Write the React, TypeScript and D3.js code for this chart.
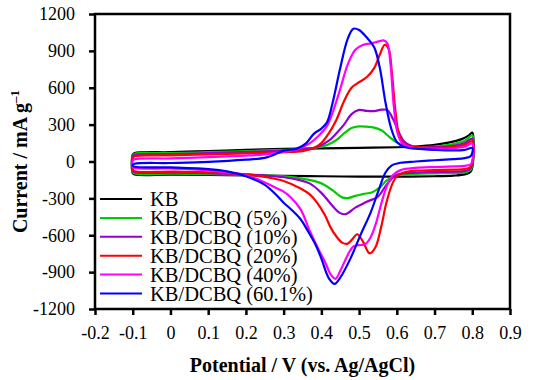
import React, { useEffect, useRef } from 'react';
import * as d3 from 'd3';

type Pt = [number, number];

// potential (V) vs current (mA/g), forward (anodic) and reverse (cathodic) scans
const kbForward: Pt[] = [[-0.1, 55], [-0.095, 68], [0, 76], [0.1, 85], [0.2, 95], [0.3, 102], [0.4, 107], [0.5, 111], [0.6, 116], [0.65, 122], [0.7, 135], [0.74, 155], [0.77, 180], [0.79, 210], [0.8, 235]];
const kbReverse: Pt[] = [[0.8, -50], [0.795, -85], [0.78, -105], [0.75, -115], [0.7, -120], [0.6, -123], [0.5, -123], [0.4, -120], [0.3, -117], [0.2, -113], [0.1, -110], [0, -107], [-0.095, -106], [-0.1, -95]];

const dcbq5Forward: Pt[] = [[-0.1, 45], [-0.095, 62], [0, 68], [0.1, 76], [0.2, 85], [0.3, 95], [0.36, 103], [0.4, 120], [0.42, 140], [0.44, 175], [0.46, 228], [0.48, 272], [0.5, 285], [0.52, 283], [0.54, 276], [0.56, 252], [0.58, 200], [0.6, 155], [0.62, 128], [0.65, 116], [0.7, 122], [0.75, 142], [0.78, 168], [0.8, 212]];
const dcbq5Reverse: Pt[] = [[0.8, -35], [0.795, -70], [0.78, -88], [0.75, -93], [0.7, -96], [0.65, -100], [0.6, -115], [0.575, -150], [0.555, -210], [0.535, -250], [0.51, -265], [0.49, -280], [0.47, -298], [0.455, -292], [0.43, -235], [0.4, -178], [0.36, -145], [0.3, -120], [0.2, -108], [0.1, -103], [0, -99], [-0.095, -97], [-0.1, -85]];

const dcbq10Forward: Pt[] = [[-0.1, 38], [-0.095, 52], [0, 60], [0.1, 68], [0.2, 78], [0.3, 88], [0.36, 100], [0.39, 120], [0.42, 170], [0.44, 230], [0.46, 300], [0.48, 385], [0.5, 420], [0.52, 412], [0.54, 410], [0.56, 422], [0.575, 418], [0.59, 345], [0.605, 240], [0.62, 160], [0.64, 125], [0.7, 117], [0.75, 128], [0.78, 150], [0.8, 185]];
const dcbq10Reverse: Pt[] = [[0.8, -20], [0.795, -58], [0.78, -78], [0.75, -82], [0.7, -86], [0.65, -90], [0.6, -108], [0.575, -180], [0.55, -285], [0.52, -328], [0.49, -375], [0.465, -428], [0.45, -420], [0.435, -380], [0.4, -255], [0.37, -180], [0.34, -150], [0.3, -128], [0.2, -105], [0.1, -95], [0, -90], [-0.095, -88], [-0.1, -75]];

const dcbq20Forward: Pt[] = [[-0.1, 28], [-0.095, 42], [0, 50], [0.1, 58], [0.2, 66], [0.3, 76], [0.35, 85], [0.38, 110], [0.4, 150], [0.42, 230], [0.44, 340], [0.46, 490], [0.48, 600], [0.5, 645], [0.52, 685], [0.54, 760], [0.555, 870], [0.568, 950], [0.578, 920], [0.587, 720], [0.596, 420], [0.606, 220], [0.62, 140], [0.64, 122], [0.7, 112], [0.75, 118], [0.78, 135], [0.8, 165]];
const dcbq20Reverse: Pt[] = [[0.8, -12], [0.795, -45], [0.78, -62], [0.75, -66], [0.7, -70], [0.65, -75], [0.62, -88], [0.6, -120], [0.587, -190], [0.572, -340], [0.558, -540], [0.543, -700], [0.528, -748], [0.51, -650], [0.495, -592], [0.48, -640], [0.468, -670], [0.455, -660], [0.44, -610], [0.425, -540], [0.41, -440], [0.39, -340], [0.37, -270], [0.345, -220], [0.3, -158], [0.25, -125], [0.2, -105], [0.1, -88], [0, -82], [-0.095, -80], [-0.1, -65]];

const dcbq40Forward: Pt[] = [[-0.1, 5], [-0.095, 18], [0, 25], [0.1, 35], [0.2, 48], [0.25, 58], [0.3, 78], [0.34, 105], [0.37, 150], [0.395, 215], [0.415, 290], [0.43, 400], [0.45, 590], [0.47, 790], [0.49, 910], [0.51, 948], [0.53, 960], [0.55, 975], [0.565, 985], [0.575, 960], [0.583, 800], [0.592, 450], [0.602, 230], [0.615, 145], [0.635, 118], [0.7, 103], [0.75, 108], [0.78, 120], [0.8, 145]];
const dcbq40Reverse: Pt[] = [[0.8, 0], [0.795, -25], [0.78, -35], [0.75, -40], [0.7, -45], [0.65, -52], [0.61, -70], [0.59, -110], [0.575, -190], [0.56, -330], [0.545, -500], [0.53, -620], [0.515, -675], [0.5, -680], [0.485, -690], [0.47, -760], [0.45, -890], [0.437, -955], [0.425, -920], [0.41, -820], [0.39, -700], [0.37, -570], [0.345, -390], [0.32, -295], [0.3, -245], [0.28, -215], [0.25, -170], [0.2, -112], [0.1, -72], [0, -57], [-0.095, -52], [-0.1, -40]];

const dcbq60Forward: Pt[] = [[-0.1, -28], [-0.095, -18], [0, -12], [0.1, -3], [0.2, 15], [0.25, 30], [0.27, 50], [0.3, 88], [0.335, 105], [0.36, 150], [0.38, 225], [0.4, 268], [0.415, 320], [0.43, 480], [0.45, 760], [0.47, 1000], [0.485, 1080], [0.5, 1070], [0.52, 1010], [0.54, 930], [0.555, 760], [0.57, 480], [0.585, 270], [0.6, 160], [0.62, 118], [0.65, 105], [0.7, 95], [0.75, 90], [0.78, 95], [0.8, 110]];
const dcbq60Reverse: Pt[] = [[0.8, 72], [0.795, 42], [0.78, 28], [0.75, 20], [0.7, 10], [0.65, 0], [0.61, -10], [0.585, -35], [0.57, -90], [0.55, -250], [0.53, -420], [0.504, -596], [0.477, -790], [0.45, -945], [0.435, -995], [0.42, -950], [0.4, -790], [0.385, -680], [0.365, -570], [0.345, -470], [0.32, -390], [0.3, -335], [0.28, -270], [0.25, -190], [0.2, -120], [0.15, -80], [0.1, -62], [0, -48], [-0.095, -43], [-0.1, -35]];

const seriesNames = ['KB', 'KB/DCBQ (5%)', 'KB/DCBQ (10%)', 'KB/DCBQ (20%)', 'KB/DCBQ (40%)', 'KB/DCBQ (60.1%)'];
const seriesColors = ['#000000', '#00cc00', '#9400d3', '#ff0000', '#ff00ff', '#0000ff'];
const seriesData: Pt[][][] = [
  [kbForward, kbReverse],
  [dcbq5Forward, dcbq5Reverse],
  [dcbq10Forward, dcbq10Reverse],
  [dcbq20Forward, dcbq20Reverse],
  [dcbq40Forward, dcbq40Reverse],
  [dcbq60Forward, dcbq60Reverse],
];

const xTickValues = [-0.2, -0.1, 0, 0.1, 0.2, 0.3, 0.4, 0.5, 0.6, 0.7, 0.8, 0.9];
const xTickLabels = ['-0.2', '-0.1', '0', '0.1', '0.2', '0.3', '0.4', '0.5', '0.6', '0.7', '0.8', '0.9'];
const yTickValues = [-1200, -900, -600, -300, 0, 300, 600, 900, 1200];
const yTickLabels = ['-1200', '-900', '-600', '-300', '0', '300', '600', '900', '1200'];

const W = 534;
const H = 380;
const margin = { top: 14, right: 24, bottom: 71, left: 95 };
const font = '"Liberation Serif", "Times New Roman", serif';

const App: React.FC = () => {
  const svgRef = useRef<SVGSVGElement>(null);

  useEffect(() => {
    const svg = d3.select(svgRef.current);
    svg.selectAll('*').remove();

    const x = d3.scaleLinear().domain([-0.2, 0.9]).range([margin.left, W - margin.right]);
    const y = d3.scaleLinear().domain([-1200, 1200]).range([H - margin.bottom, margin.top]);

    const line = d3.line<Pt>()
      .x(d => x(d[0]))
      .y(d => y(d[1]))
      .curve(d3.curveCatmullRomClosed.alpha(0.5));

    // CV loops
    seriesData.forEach((s, i) => {
      svg.append('path')
        .datum([...s[0], ...s[1]])
        .attr('d', line)
        .attr('fill', 'none')
        .attr('stroke', seriesColors[i])
        .attr('stroke-width', 2.2)
        .attr('stroke-linejoin', 'round');
    });

    // x axis
    const xAxis = svg.append('g')
      .attr('transform', `translate(0,${H - margin.bottom})`)
      .call(d3.axisBottom(x).tickValues(xTickValues).tickSize(6).tickPadding(11)
        .tickFormat((_d, i) => xTickLabels[i]));
    xAxis.select('.domain').remove();
    xAxis.selectAll('line').attr('stroke', '#000').attr('stroke-width', 2.5);
    xAxis.selectAll('text').attr('font-family', font).attr('font-size', 18).attr('fill', '#000');

    // y axis
    const yAxis = svg.append('g')
      .attr('transform', `translate(${margin.left},0)`)
      .call(d3.axisLeft(y).tickValues(yTickValues).tickSize(6).tickPadding(14)
        .tickFormat((_d, i) => yTickLabels[i]));
    yAxis.select('.domain').remove();
    yAxis.selectAll('line').attr('stroke', '#000').attr('stroke-width', 2.5);
    yAxis.selectAll('text').attr('font-family', font).attr('font-size', 18).attr('fill', '#000');

    // frame
    svg.append('rect')
      .attr('x', margin.left)
      .attr('y', margin.top)
      .attr('width', W - margin.left - margin.right)
      .attr('height', H - margin.top - margin.bottom)
      .attr('fill', 'none')
      .attr('stroke', '#000')
      .attr('stroke-width', 2.5);

    // legend
    const legend = svg.append('g');
    seriesNames.forEach((name, i) => {
      const ly = 199 + i * 18.9;
      legend.append('line')
        .attr('x1', 100).attr('x2', 142)
        .attr('y1', ly).attr('y2', ly)
        .attr('stroke', seriesColors[i])
        .attr('stroke-width', 2);
      legend.append('text')
        .attr('x', 150).attr('y', ly)
        .attr('dy', '0.35em')
        .attr('font-family', font)
        .attr('font-size', 20.5)
        .attr('fill', '#000')
        .text(name);
    });

    // axis titles
    svg.append('text')
      .attr('x', (margin.left + W - margin.right) / 2)
      .attr('y', 372)
      .attr('text-anchor', 'middle')
      .attr('font-family', font)
      .attr('font-size', 20)
      .attr('font-weight', 'bold')
      .text('Potential / V (vs. Ag/AgCl)');

    const yt = svg.append('text')
      .attr('transform', `translate(27,${(margin.top + H - margin.bottom) / 2}) rotate(-90)`)
      .attr('text-anchor', 'middle')
      .attr('font-family', font)
      .attr('font-size', 20)
      .attr('font-weight', 'bold');
    yt.append('tspan').text('Current / mA g');
    yt.append('tspan').attr('font-size', 13).attr('dy', -8).text('\u20131');
  }, []);

  return (
    <svg ref={svgRef} width={W} height={H} style={{ position: 'absolute', left: 0, top: 0, background: '#fff' }} />
  );
};

export default App;
